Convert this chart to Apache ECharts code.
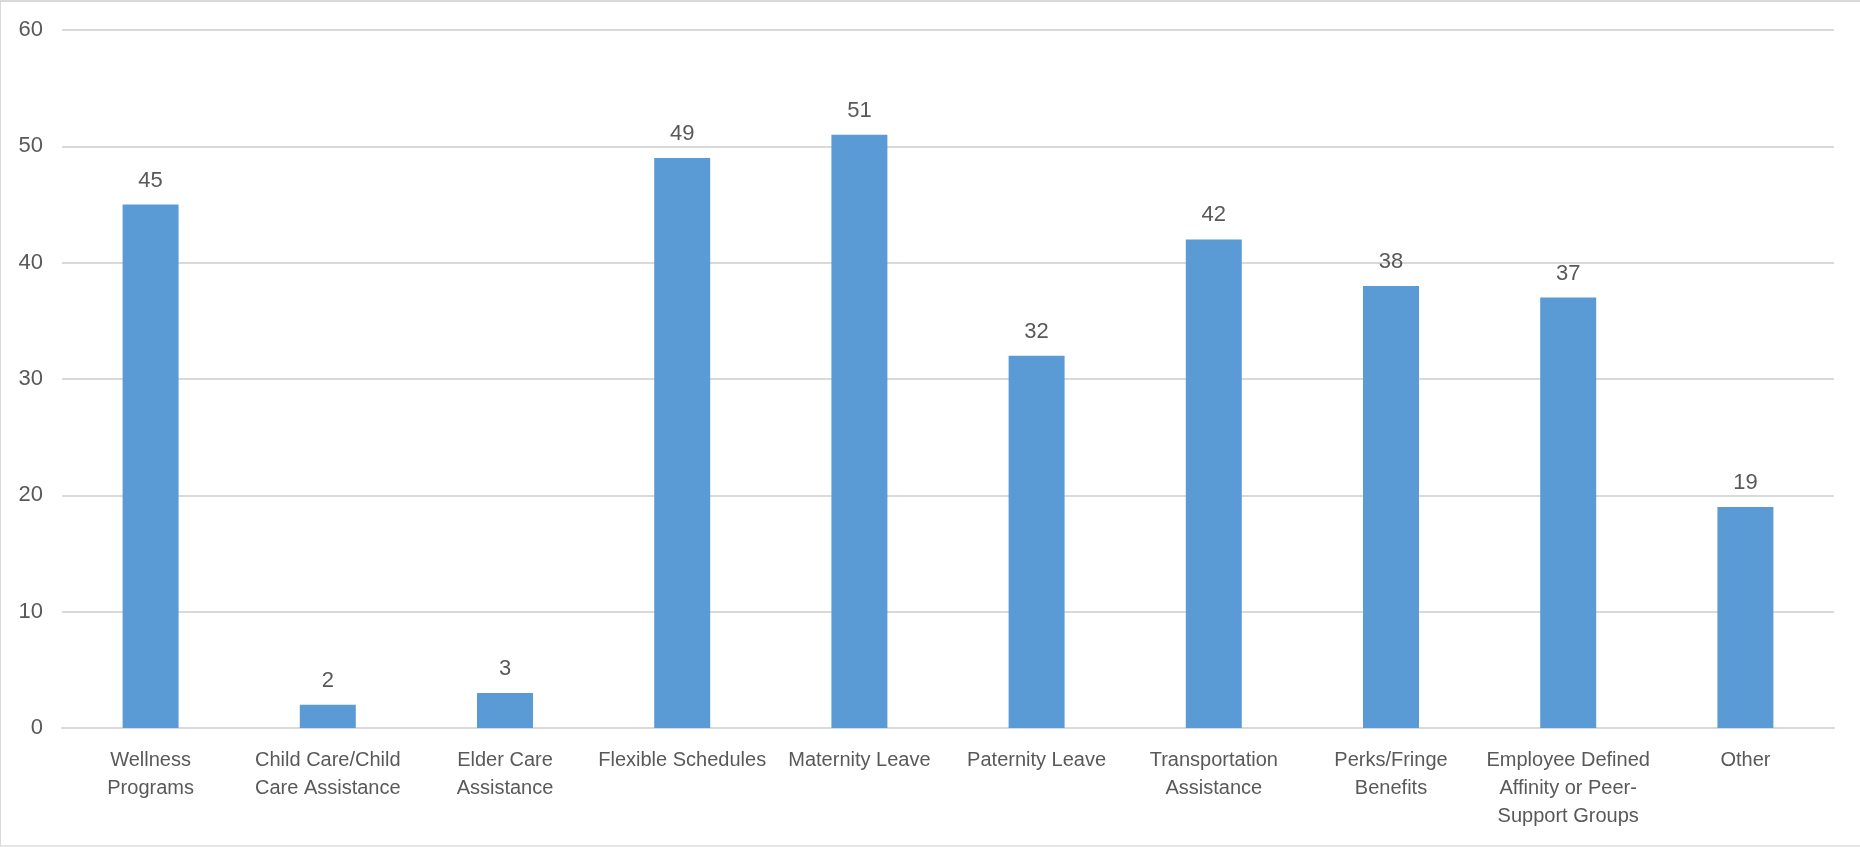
<!DOCTYPE html>
<html>
<head>
<meta charset="utf-8">
<title>Employee Benefits</title>
<script src="https://cdn.jsdelivr.net/npm/echarts@6/dist/echarts.min.js"></script>
<style>
  html, body { margin: 0; padding: 0; background: #ffffff; }
  #frame {
    width: 1860px; height: 847px; box-sizing: border-box;
    border-top: 2px solid #d9d9d9; border-left: 1px solid #d9d9d9;
    border-bottom: 2px solid #e6e6e6;
  }
  #chart { width: 100%; height: 100%; }
</style>
</head>
<body>
<div id="frame"><div id="chart"></div></div>
<script>
// Benefit categories and counts
const categories = [
  'Wellness\nPrograms',
  'Child Care/Child\nCare Assistance',
  'Elder Care\nAssistance',
  'Flexible Schedules',
  'Maternity Leave',
  'Paternity Leave',
  'Transportation\nAssistance',
  'Perks/Fringe\nBenefits',
  'Employee Defined\nAffinity or Peer-\nSupport Groups',
  'Other'
];
const counts = [45, 2, 3, 49, 51, 32, 42, 38, 37, 19];
const yTicks = { min: 0, max: 60, interval: 10 };

const textColor = '#595959';
const gridColor = '#d9d9d9';
const fontFamily = '"Liberation Sans", Arial, sans-serif';

const chart = echarts.init(document.getElementById('chart'), null, { renderer: 'canvas' });
chart.setOption({
  animation: false,
  grid: { left: 61, right: 26, top: 28, bottom: 117, containLabel: false },
  xAxis: {
    type: 'category',
    data: categories,
    axisLine: { show: true, lineStyle: { color: gridColor, width: 2 } },
    axisTick: { show: false },
    axisLabel: {
      color: textColor, fontSize: 20, fontFamily: fontFamily,
      lineHeight: 28, margin: 18, interval: 0
    }
  },
  yAxis: {
    type: 'value',
    min: yTicks.min, max: yTicks.max, interval: yTicks.interval,
    axisLine: { show: false },
    axisTick: { show: false },
    splitLine: { lineStyle: { color: gridColor, width: 2 } },
    axisLabel: { color: textColor, fontSize: 22, fontFamily: fontFamily, margin: 19 }
  },
  series: [{
    type: 'bar',
    data: counts,
    barWidth: '31.6%',
    itemStyle: { color: '#5b9bd5' },
    label: {
      show: true, position: 'top', distance: 13,
      color: textColor, fontSize: 22, fontFamily: fontFamily
    }
  }]
});
</script>
</body>
</html>
